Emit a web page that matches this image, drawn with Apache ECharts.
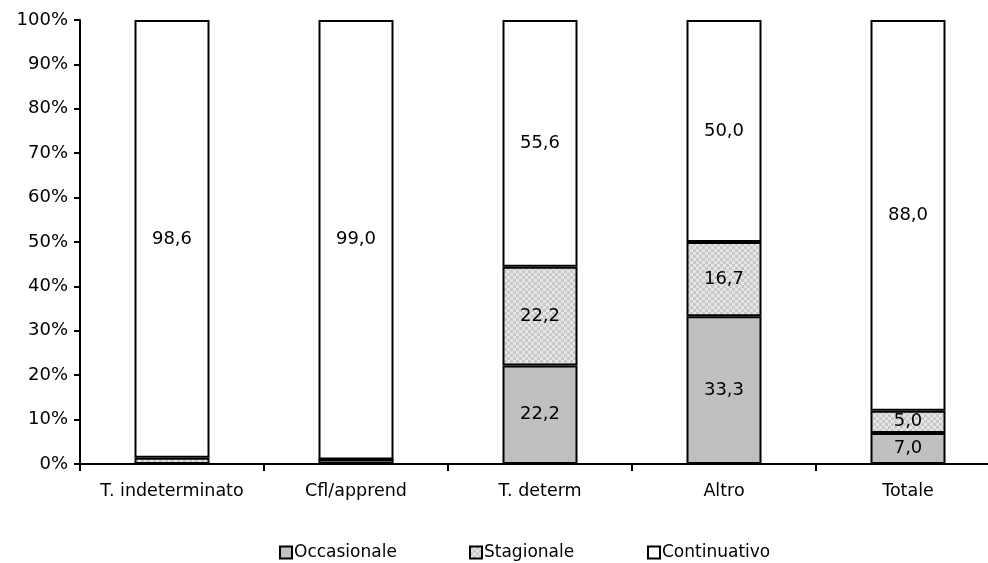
<!DOCTYPE html>
<html><head><meta charset="utf-8">
<script src="https://cdn.jsdelivr.net/npm/echarts@6/dist/echarts.min.js"></script>
<style>html,body{margin:0;padding:0;background:#fff}#c{width:988px;height:563px}</style>
</head><body><div id="c"></div>
<script>
const categories = ['T. indeterminato', 'Cfl/apprend', 'T. determ', 'Altro', 'Totale'];
const occasionale = [0, 1.0, 22.2, 33.3, 7.0];
const stagionale = [1.4, 0, 22.2, 16.7, 5.0];
const continuativo = [98.6, 99.0, 55.6, 50.0, 88.0];
const yTicks = [0, 10, 20, 30, 40, 50, 60, 70, 80, 90, 100];
const seriesNames = ['Occasionale', 'Stagionale', 'Continuativo'];

function makePattern() {
  const c = document.createElement('canvas');
  c.width = 6; c.height = 6;
  const g = c.getContext('2d');
  g.fillStyle = '#ffffff'; g.fillRect(0, 0, 6, 6);
  g.fillStyle = '#c8c8c8';
  g.fillRect(0, 0, 3, 3); g.fillRect(3, 3, 3, 3);
  g.fillStyle = '#e6e6e6';
  g.fillRect(3, 0, 3, 3); g.fillRect(0, 3, 3, 3);
  return c;
}
const pat = { image: makePattern(), repeat: 'repeat' };
const FONT = 'DejaVu Sans';
const lbl = {
  show: true, position: 'inside', color: '#000', fontFamily: FONT, fontSize: 18,
  formatter: p => p.value >= 4 ? p.value.toFixed(1).replace('.', ',') : ''
};
function s(name, data, color) {
  return {
    name, type: 'bar', stack: 'a', data, barWidth: 75,
    itemStyle: { color, borderColor: '#000', borderWidth: 2 },
    label: lbl, emphasis: { disabled: true }
  };
}
function leg(name, left) {
  return {
    top: 539, left, itemWidth: 12, itemHeight: 12, icon: 'rect', itemGap: 0,
    textStyle: { fontFamily: FONT, fontSize: 17, color: '#000', padding: [0, 0, 0, -3] },
    data: [name]
  };
}
const chart = echarts.init(document.getElementById('c'));
chart.setOption({
  animation: false,
  grid: { left: 80, top: 20, right: -12, height: 444, outerBoundsMode: 'none' },
  legend: [leg(seriesNames[0], 274), leg(seriesNames[1], 464), leg(seriesNames[2], 642)],
  xAxis: {
    type: 'category', data: categories,
    axisLine: { lineStyle: { color: '#000', width: 2 } },
    axisTick: { show: true, length: 7, interval: 0, lineStyle: { color: '#000', width: 2 } },
    axisLabel: { color: '#000', fontFamily: FONT, fontSize: 17.5, margin: 18, interval: 0 }
  },
  yAxis: {
    type: 'value', min: 0, max: 100, interval: 10,
    axisLine: { show: true, lineStyle: { color: '#000', width: 2 } },
    axisTick: { show: true, length: 6, lineStyle: { color: '#000', width: 2 } },
    splitLine: { show: false },
    axisLabel: { color: '#000', fontFamily: FONT, fontSize: 18, margin: 12,
      formatter: v => yTicks.includes(v) ? v + '%' : '' }
  },
  series: [
    s(seriesNames[0], occasionale, '#c0c0c0'),
    s(seriesNames[1], stagionale, pat),
    s(seriesNames[2], continuativo, '#ffffff')
  ]
});
</script></body></html>
